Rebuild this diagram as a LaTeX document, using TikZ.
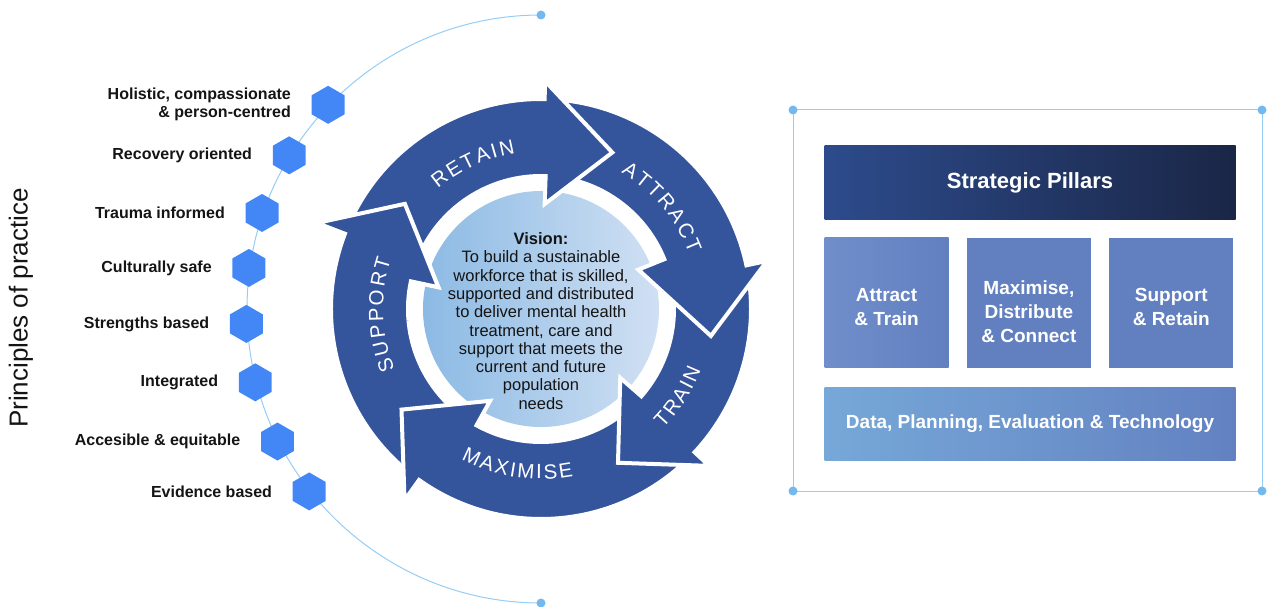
\documentclass[tikz,border=0pt]{standalone}
\usepackage{fontspec}
\setmainfont{Liberation Sans}
\usetikzlibrary{positioning,shapes.geometric,decorations.text}

\definecolor{ringblue}{RGB}{52,84,155}
\definecolor{hexblue}{RGB}{66,135,245}
\definecolor{arcblue}{RGB}{150,205,245}
\definecolor{dotblue}{RGB}{115,185,240}
\definecolor{visionL}{RGB}{140,186,228}
\definecolor{visionR}{RGB}{208,224,243}
\definecolor{pillarL}{RGB}{45,75,140}
\definecolor{pillarR}{RGB}{26,38,70}
\definecolor{boxL}{RGB}{112,142,202}
\definecolor{boxR}{RGB}{98,128,192}
\definecolor{baseL}{RGB}{118,168,216}
\definecolor{baseR}{RGB}{99,129,193}
\definecolor{ink}{RGB}{20,20,20}

\tikzset{
  hexa/.style={regular polygon, regular polygon sides=6, shape border rotate=90,
    minimum size=38pt, inner sep=0pt, fill=hexblue},
  principle/.style={font=\bfseries\fontsize{16}{18}\selectfont, text=ink, align=right},
  arcline/.style={draw=arcblue, line width=1pt},
  rimdot/.style={circle, fill=dotblue, minimum size=9pt, inner sep=0pt},
  cyclearrow/.style={fill=ringblue, draw=white, line width=4pt, line join=miter},
  cyclelabel/.style={decorate, decoration={text along path, text align=center, text={|\cyclefont|#1}}},
  pillarbox/.style={rectangle, inner sep=0pt, minimum width=124pt, minimum height=130pt},
  pillartext/.style={text=white, align=center, font=\bfseries\fontsize{19}{24}\selectfont},
}

\newcommand{\cyclefont}{\fontsize{20.5}{20.5}\selectfont\color{white}}
\newcommand{\lsp}{\kern2.2pt}
% ring arrow: tail, head base outer, head base inner, tip, head outer radius (angles run clockwise)
\newcommand{\ringarrow}[5]{%
  \filldraw[cyclearrow] (#1:210) arc[start angle=#1, end angle=#2, radius=210]
    -- (#2:#5) -- (#4:172) -- (#3:105) -- (#3:133)
    arc[start angle=#3, end angle=#1, radius=133] -- cycle;}

\begin{document}
\begin{tikzpicture}[x=1pt, y=-1pt]
\useasboundingbox (0,0) rectangle (1267,607);

\node[rotate=90, font=\fontsize{26}{28}\selectfont, text=ink] (title) at (21,308) {Principles of practice};

\begin{scope}[shift={(541,309)}]
% principles
\coordinate (top) at (270:294);
\coordinate (bottom) at (90:294);
\draw[arcline] (top) arc[start angle=270, end angle=90, radius=294];
\node[rimdot] (topdot) at (top) {};
\node[rimdot] (bottomdot) at (bottom) {};
\foreach \ang/\txt [count=\i] in {223.8/{Holistic, compassionate\\\& person-centred},
    211.4/Recovery oriented, 199/Trauma informed, 188/Culturally safe,
    177.1/Strengths based, 165.6/Integrated, 153.3/Accesible \& equitable,
    141.8/Evidence based}
{
  \node[hexa] (h\i) at (\ang:295) {};
  \node[principle, left=17pt of h\i] (p\i) {\txt};
}

% cycle
\node[circle, minimum size=236pt, inner sep=0pt, left color=visionL, right color=visionR] (visioncircle) at (0,0) {};
\ringarrow{127}{201}{192}{217.7}{240}   % support
\ringarrow{47}{125.5}{119}{144.2}{235}  % maximise
\ringarrow{-12}{43}{41}{63.4}{230}      % train
\ringarrow{276}{348}{338}{369}{231}     % attract
\ringarrow{201.5}{271}{272}{294.5}{228} % retain
\begin{scope}
  \clip (0,0) -- (175:320) arc[start angle=175, end angle=235, radius=320] -- cycle;
  \ringarrow{127}{201}{192}{217.7}{240}
\end{scope}
\path[cyclelabel={{R\lsp}{E\lsp}{T\lsp}{A\lsp}{I\lsp}N}] (205:158) arc[start angle=205, end angle=285, radius=158];
\path[cyclelabel={{A\lsp}{T\lsp}{T\lsp}{R\lsp}{A\lsp}{C\lsp}T}] (280:158) arc[start angle=280, end angle=360, radius=158];
\path[cyclelabel={{T\lsp}{R\lsp}{A\lsp}{I\lsp}N}] (72.7:171) arc[start angle=72.7, end angle=-7.3, radius=171];
\path[cyclelabel={{M\lsp}{A\lsp}{X\lsp}{I\lsp}{M\lsp}{I\lsp}{S\lsp}E}] (150:170) arc[start angle=150, end angle=47, radius=170];
\path[cyclelabel={{S\lsp}{U\lsp}{P\lsp}{P\lsp}{O\lsp}{R\lsp}T}] (138:158) arc[start angle=138, end angle=218, radius=158];

\node[align=center, font=\fontsize{16.5}{18.3}\selectfont, text=ink] (vision) at (0,12)
  {\textbf{Vision:}\\To build a sustainable\\workforce that is skilled,\\supported and distributed\\
   to deliver mental health\\treatment, care and\\support that meets the\\current and future\\population\\needs};
\end{scope}

% strategic pillars
\coordinate (c1) at (793,110);
\coordinate (c2) at (1262,110);
\coordinate (c3) at (1262,491);
\coordinate (c4) at (793,491);
\draw[arcline] (c1) -- (c2) -- (c3) -- (c4) -- cycle;
\foreach \k in {1,...,4} \node[rimdot] (dot\k) at (c\k) {};

\node[pillarbox, minimum width=411pt, minimum height=74pt, left color=pillarL, right color=pillarR,
  pillartext, font=\bfseries\fontsize{22}{24}\selectfont] (pillars) at (1030,182.5) {Strategic Pillars};
\node[pillarbox, left color=boxL, right color=boxR,
  below=18pt of pillars.south west, anchor=north west] (train) {};
\node[pillarbox, fill=boxR, right=18pt of train] (connect) {};
\node[pillarbox, fill=boxR, right=18pt of connect] (retain) {};
\node[pillartext] (traintext) at ([yshift=-4pt]train.center) {Attract\\\& Train};
\node[pillartext] (connecttext) at ([yshift=-9pt]connect.center) {Maximise,\\Distribute\\\& Connect};
\node[pillartext] (retaintext) at ([yshift=-4pt]retain.center) {Support\\\& Retain};
\node[pillarbox, minimum width=411pt, minimum height=73pt, left color=baseL, right color=baseR,
  pillartext, below=19pt of train.south west, anchor=north west] (data) {Data, Planning, Evaluation \& Technology};
\end{tikzpicture}
\end{document}
